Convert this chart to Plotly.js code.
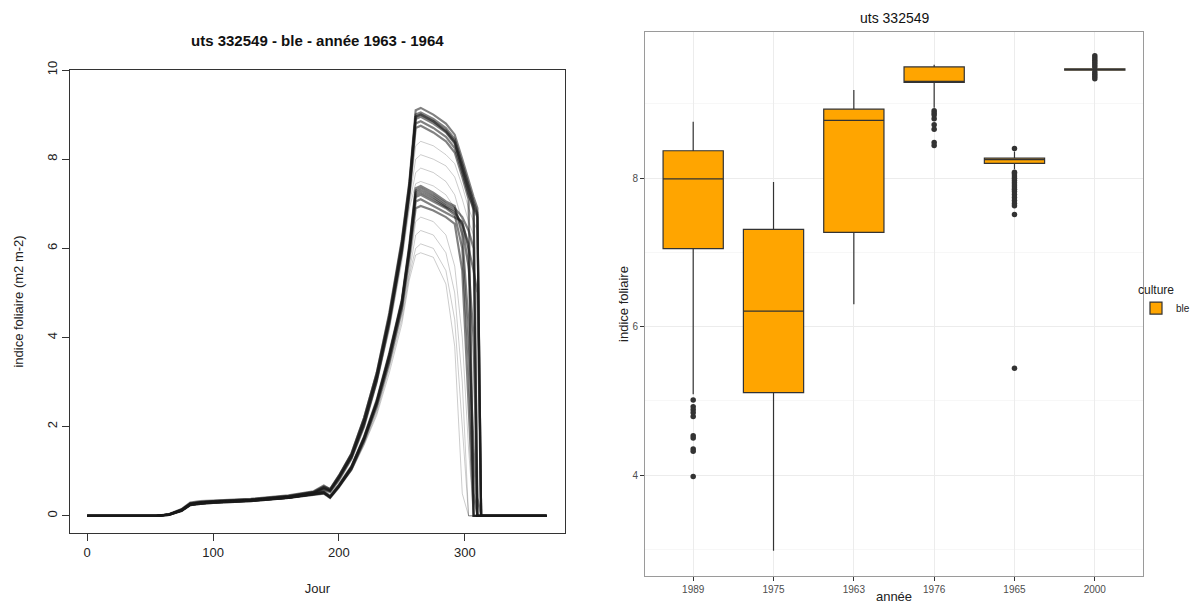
<!DOCTYPE html>
<html>
<head>
<meta charset="utf-8">
<script src="https://cdn.plot.ly/plotly-3.0.1.min.js"></script>
<style>html,body{margin:0;padding:0;background:#fff;}#chart{width:1198px;height:604px;}</style>
</head>
<body>
<div id="chart"></div>
<script>
// ---------- Left panel: LAI curves (day of year) ----------
const days = [0,55,65,75,82,90,100,130,160,180,188,193,200,210,220,230,240,250,256,261,265,275,285,292,298,303,307,310,313,365];

// dense upper bundle (peak ~9)
const upper1 = [0,0,0.04,0.15,0.30,0.33,0.34,0.38,0.46,0.55,0.68,0.60,0.90,1.40,2.20,3.20,4.55,6.20,7.50,9.10,9.15,9.00,8.80,8.55,8.00,7.50,7.15,6.90,0,0];
const upper2 = [0,0,0.03,0.14,0.28,0.31,0.33,0.37,0.44,0.53,0.64,0.58,0.88,1.37,2.15,3.15,4.45,6.10,7.40,9.00,9.05,8.90,8.70,8.45,7.90,7.40,7.05,6.80,0,0];
const upper3 = [0,0,0.03,0.13,0.27,0.30,0.32,0.36,0.43,0.52,0.62,0.56,0.85,1.33,2.10,3.10,4.40,6.00,7.30,8.90,8.95,8.80,8.60,8.35,7.80,7.30,6.95,0,0,0];
const upper4 = [0,0,0.02,0.12,0.26,0.29,0.31,0.35,0.42,0.50,0.60,0.55,0.83,1.30,2.05,3.05,4.35,5.95,7.25,8.80,8.85,8.70,8.50,8.25,7.70,7.20,6.90,6.70,0,0];
const upper5 = [0,0,0.02,0.12,0.25,0.28,0.30,0.34,0.41,0.49,0.58,0.53,0.80,1.28,2.00,3.00,4.30,5.90,7.20,8.70,8.75,8.60,8.40,8.15,7.60,7.10,0,0,0,0];
const upper6 = [0,0,0.03,0.14,0.28,0.31,0.33,0.37,0.45,0.54,0.66,0.60,0.90,1.40,2.20,3.20,4.50,6.15,7.45,8.95,9.00,8.85,8.65,8.40,7.85,7.35,7.00,6.75,0,0];
const upper7 = [0,0,0.03,0.13,0.27,0.30,0.32,0.36,0.43,0.52,0.63,0.57,0.86,1.35,2.12,3.12,4.42,6.05,7.35,8.95,9.00,8.85,8.62,8.38,7.75,7.25,6.85,0.40,0,0];
// faint lines below the upper bundle
const upperFaint1 = [0,0,0.03,0.13,0.27,0.30,0.32,0.36,0.43,0.52,0.62,0.56,0.85,1.30,2.05,3.05,4.30,5.90,7.20,8.30,8.40,8.30,8.10,7.90,7.40,6.90,6.60,6.40,0,0];
const upperFaint2 = [0,0,0.03,0.13,0.27,0.30,0.32,0.36,0.43,0.52,0.62,0.56,0.85,1.30,2.05,3.00,4.25,5.85,7.10,8.00,8.10,8.00,7.85,7.60,7.10,6.60,6.30,0,0,0];
const upperFaint3 = [0,0,0.03,0.13,0.27,0.30,0.32,0.36,0.43,0.52,0.62,0.56,0.85,1.30,2.00,3.00,4.20,5.80,7.00,7.70,7.80,7.70,7.50,7.20,6.60,5.90,0,0,0,0];
const upperFaint4 = [0,0,0.03,0.13,0.27,0.30,0.32,0.36,0.43,0.52,0.62,0.56,0.85,1.30,2.00,2.95,4.15,5.70,6.90,7.45,7.50,7.40,7.20,6.90,6.30,5.50,3.50,0,0,0];

// dense lower bundle (peak ~7.3)
const lower1 = [0,0,0.03,0.13,0.26,0.29,0.31,0.35,0.42,0.50,0.55,0.45,0.70,1.12,1.78,2.60,3.65,4.85,6.10,7.35,7.40,7.25,7.05,6.95,6.30,4.30,1.50,0,0,0];
const lower2 = [0,0,0.03,0.12,0.25,0.28,0.30,0.34,0.41,0.49,0.53,0.43,0.68,1.10,1.75,2.55,3.60,4.80,6.00,7.25,7.30,7.15,6.95,6.85,6.50,5.60,4.00,0,0,0];
const lower3 = [0,0,0.03,0.12,0.25,0.28,0.30,0.34,0.41,0.48,0.52,0.42,0.66,1.08,1.72,2.52,3.55,4.75,5.95,7.15,7.20,7.05,6.90,6.75,6.00,3.50,0.50,0,0,0];
const lower4 = [0,0,0.02,0.11,0.24,0.27,0.29,0.33,0.40,0.47,0.51,0.41,0.65,1.06,1.70,2.50,3.50,4.70,5.90,7.05,7.10,6.95,6.80,6.70,6.60,6.00,5.50,5.00,0,0];
const lower5 = [0,0,0.02,0.11,0.24,0.27,0.29,0.33,0.40,0.47,0.50,0.40,0.64,1.04,1.68,2.45,3.45,4.65,5.80,6.90,6.95,6.85,6.70,6.55,5.50,2.50,0,0,0,0];
const lower6 = [0,0,0.03,0.12,0.25,0.28,0.30,0.34,0.41,0.49,0.53,0.43,0.68,1.10,1.76,2.57,3.62,4.82,6.05,7.30,7.35,7.20,7.00,6.90,6.70,6.40,6.00,0,0,0];
const lower7 = [0,0,0.03,0.12,0.25,0.28,0.30,0.34,0.41,0.48,0.52,0.42,0.67,1.09,1.74,2.54,3.58,4.78,5.98,7.20,7.25,7.10,6.92,6.80,6.55,6.10,0,0,0,0];
// faint lines below the lower bundle
const lowerFaint1 = [0,0,0.02,0.11,0.24,0.27,0.29,0.33,0.40,0.47,0.50,0.40,0.64,1.04,1.65,2.40,3.40,4.55,5.60,6.60,6.70,6.60,6.30,5.60,4.00,1.50,0,0,0,0];
const lowerFaint2 = [0,0,0.02,0.11,0.24,0.27,0.29,0.33,0.40,0.47,0.50,0.40,0.64,1.02,1.62,2.35,3.35,4.50,5.50,6.30,6.40,6.30,5.90,5.00,3.00,0,0,0,0,0];
const lowerFaint3 = [0,0,0.02,0.11,0.24,0.27,0.29,0.33,0.40,0.47,0.50,0.40,0.64,1.02,1.60,2.30,3.30,4.40,5.40,6.00,6.10,6.00,5.50,4.40,2.00,0,0,0,0,0];
const lowerFaint4 = [0,0,0.02,0.11,0.24,0.27,0.29,0.33,0.40,0.47,0.50,0.40,0.64,1.00,1.58,2.25,3.20,4.30,5.30,5.85,5.90,5.80,5.20,3.80,0.50,0,0,0,0,0];

const denseCurves = [upper1, upper2, upper3, upper4, upper5, upper6, upper7, lower1, lower2, lower3, lower4, lower5, lower6, lower7];
const faintCurves = [upperFaint1, upperFaint2, upperFaint3, upperFaint4, lowerFaint1, lowerFaint2, lowerFaint3, lowerFaint4];

const leftXTicks = [0, 100, 200, 300];
const leftYTicks = [0, 2, 4, 6, 8, 10];

// ---------- Right panel: boxplots by year ----------
const years = ['1989', '1975', '1963', '1976', '1965', '2000'];
const q1 =         [7.05, 5.11, 7.27, 9.29, 8.20, 9.455];
const medians =    [7.99, 6.21, 8.78, 9.30, 8.25, 9.465];
const q3 =         [8.37, 7.31, 8.93, 9.50, 8.27, 9.475];
const lowFence =   [5.09, 2.98, 6.30, 8.95, 8.12, 9.45];
const highFence =  [8.76, 7.95, 9.19, 9.53, 8.36, 9.48];
const outliers1989 = [5.01, 4.92, 4.88, 4.84, 4.79, 4.53, 4.50, 4.35, 4.32, 3.98];
const outliers1976 = [8.91, 8.88, 8.85, 8.80, 8.72, 8.66, 8.48, 8.44];
const outliers1965 = [8.40, 8.08, 8.06, 8.03, 8.00, 7.97, 7.94, 7.91, 7.88, 7.85, 7.82, 7.78, 7.74, 7.70, 7.66, 7.63, 7.51, 5.44];
const outliers2000 = [9.65, 9.62, 9.59, 9.56, 9.53, 9.50, 9.43, 9.40, 9.37, 9.34];
const rightYTicks = [4, 6, 8];

const FONT = 'Liberation Sans, Arial, Helvetica, sans-serif';
const traces = [];

faintCurves.forEach(c => traces.push({
  type: 'scatter', mode: 'lines', x: days, y: c, xaxis: 'x', yaxis: 'y',
  line: {color: 'rgba(0,0,0,0.2)', width: 1}, showlegend: false, hoverinfo: 'skip'
}));
denseCurves.forEach(c => traces.push({
  type: 'scatter', mode: 'lines', x: days, y: c, xaxis: 'x', yaxis: 'y',
  line: {color: 'rgba(25,25,25,0.55)', width: 2.2}, showlegend: false, hoverinfo: 'skip'
}));

traces.push({
  type: 'box', name: 'ble', x: years, q1: q1, median: medians, q3: q3,
  lowerfence: lowFence, upperfence: highFence, boxpoints: false,
  xaxis: 'x2', yaxis: 'y2', width: 0.75, whiskerwidth: 0,
  fillcolor: '#FFA500', line: {color: '#333333', width: 1.2},
  showlegend: true, hoverinfo: 'skip'
});

const outlierSets = [['1989', outliers1989], ['1976', outliers1976], ['1965', outliers1965], ['2000', outliers2000]];
outlierSets.forEach(([yr, vals]) => traces.push({
  type: 'scatter', mode: 'markers', x: vals.map(() => yr), y: vals,
  xaxis: 'x2', yaxis: 'y2', marker: {color: '#333333', size: 5.5},
  showlegend: false, hoverinfo: 'skip'
}));

const layout = {
  width: 1198, height: 604,
  margin: {l: 0, r: 0, t: 0, b: 0, autoexpand: false},
  paper_bgcolor: '#ffffff', plot_bgcolor: 'rgba(0,0,0,0)',
  font: {family: FONT, color: '#222'},
  showlegend: true, hovermode: false,
  xaxis: {
    domain: [70/1198, 565/1198], range: [-13.6, 379.6], anchor: 'y',
    tickvals: leftXTicks, ticks: 'outside', ticklen: 7, tickcolor: '#333', tickwidth: 1,
    showline: true, mirror: true, linecolor: '#333', linewidth: 1,
    showgrid: false, zeroline: false, automargin: false,
    tickfont: {size: 13, color: '#222'},
    title: {text: 'Jour', font: {size: 13, color: '#222'}, standoff: 25}
  },
  yaxis: {
    domain: [1 - 533/604, 1 - 70/604], range: [-0.385, 10.0], anchor: 'x',
    tickvals: leftYTicks, ticks: 'outside', ticklen: 7, tickcolor: '#333', tickwidth: 1,
    showline: true, mirror: true, linecolor: '#333', linewidth: 1,
    showgrid: false, zeroline: false, automargin: false, tickangle: -90,
    tickfont: {size: 13, color: '#222'},
    title: {text: 'indice foliaire (m2 m-2)', font: {size: 13, color: '#222'}, standoff: 18}
  },
  xaxis2: {
    domain: [645/1198, 1143/1198], range: [-0.6, 5.6], anchor: 'y2',
    type: 'category', categoryorder: 'array', categoryarray: years,
    ticks: 'outside', ticklen: 4, tickcolor: '#333', tickwidth: 1,
    showline: true, mirror: true, linecolor: '#9a9a9a', linewidth: 1,
    showgrid: true, gridcolor: '#ececec', gridwidth: 1, zeroline: false, automargin: false,
    tickfont: {size: 10, color: '#4d4d4d'},
    title: {text: 'année', font: {size: 13, color: '#222'}, standoff: 4}
  },
  yaxis2: {
    domain: [1 - 576/604, 1 - 32/604], range: [2.64, 9.97], anchor: 'x2',
    tickvals: rightYTicks, ticks: 'outside', ticklen: 4, tickcolor: '#333', tickwidth: 1,
    showline: true, mirror: true, linecolor: '#9a9a9a', linewidth: 1,
    showgrid: true, gridcolor: '#ececec', gridwidth: 1, zeroline: false, automargin: false,
    minor: {tickvals: [3, 5, 7, 9], showgrid: true, gridcolor: '#f7f7f7', gridwidth: 1, ticks: ''},
    tickfont: {size: 10, color: '#4d4d4d'},
    title: {text: 'indice foliaire', font: {size: 13, color: '#222'}, standoff: 0}
  },
  legend: {
    x: 1136/1198, y: 1 - 278/604, xanchor: 'left', yanchor: 'top',
    bgcolor: 'rgba(0,0,0,0)', font: {size: 10, color: '#222'},
    title: {text: 'culture', font: {size: 12, color: '#222'}},
    itemwidth: 30, tracegroupgap: 0
  },
  annotations: [
    {text: '<b>uts 332549 - ble - année 1963 - 1964</b>', xref: 'paper', yref: 'paper',
     x: 317.5/1198, y: 1 - 40/604, xanchor: 'center', yanchor: 'middle', showarrow: false,
     font: {size: 15, color: '#111'}},
    {text: 'uts 332549', xref: 'paper', yref: 'paper',
     x: 894/1198, y: 1 - 18/604, xanchor: 'center', yanchor: 'middle', showarrow: false,
     font: {size: 14, color: '#111'}}
  ]
};

Plotly.newPlot('chart', traces, layout, {staticPlot: true, displayModeBar: false});
</script>
</body>
</html>
